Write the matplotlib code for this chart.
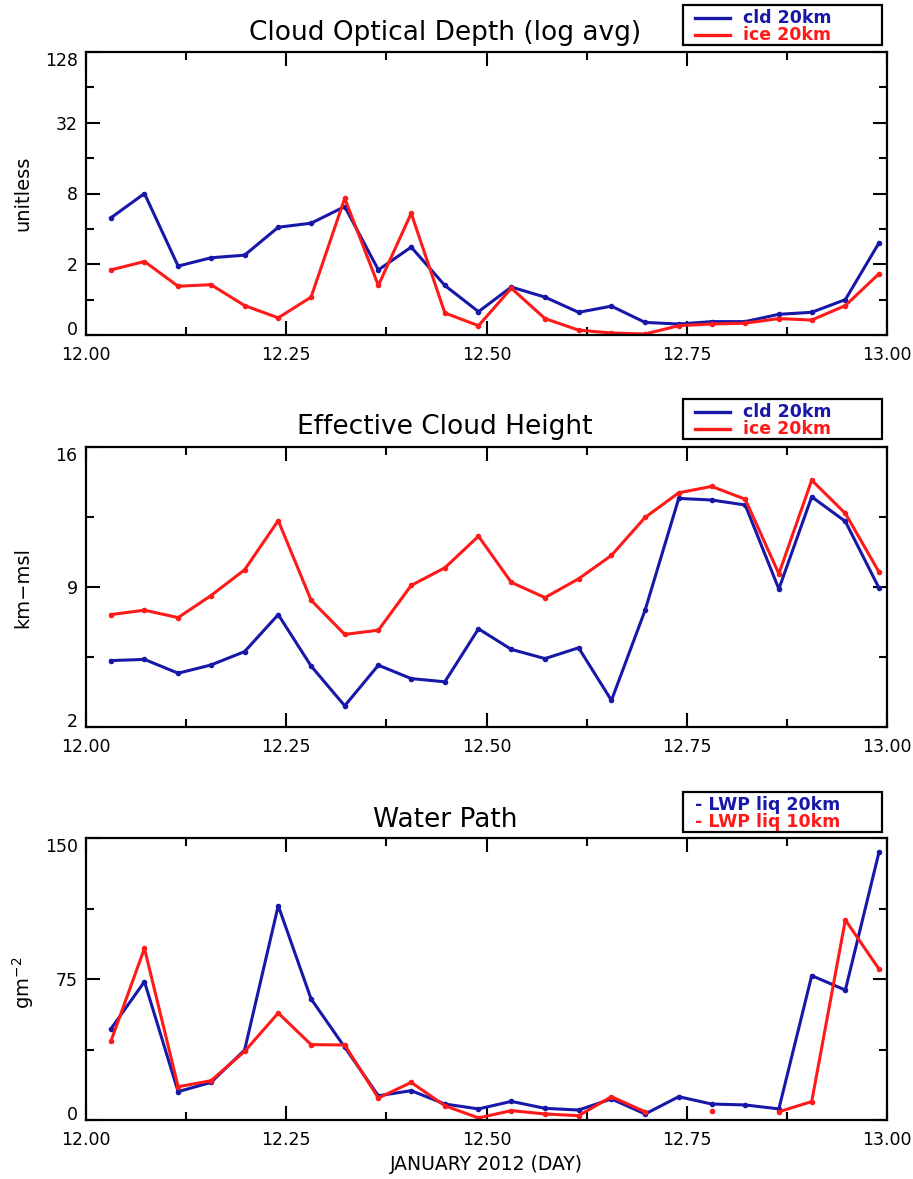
import numpy as np
import matplotlib
matplotlib.use('Agg')
import matplotlib.pyplot as plt
from matplotlib.patches import Rectangle
from matplotlib.lines import Line2D

# hourly samples, January 2012 (day)
day = [12.031, 12.073, 12.115, 12.156, 12.198, 12.240, 12.281, 12.323,
       12.365, 12.406, 12.448, 12.490, 12.531, 12.573, 12.615, 12.656,
       12.698, 12.740, 12.781, 12.823, 12.865, 12.906, 12.948, 12.990]

# cloud optical depth (log avg)
cod_cld = [4.96, 8.0, 1.93, 2.27, 2.39, 4.13, 4.47, 6.19, 1.79, 2.80, 1.32, 0.79,
           1.28, 1.05, 0.78, 0.88, 0.64, 0.62, 0.65, 0.65, 0.75, 0.78, 1.0, 3.04]
cod_ice = [1.79, 2.11, 1.30, 1.34, 0.89, 0.70, 1.05, 7.28, 1.32, 5.43, 0.77, 0.60,
           1.25, 0.69, 0.55, 0.52, 0.51, 0.60, 0.62, 0.63, 0.69, 0.67, 0.89, 1.66]

# effective cloud height (km-msl)
hgt_cld = [5.32, 5.38, 4.69, 5.10, 5.77, 7.62, 5.05, 3.06, 5.09, 4.42, 4.26, 6.91,
           5.88, 5.42, 5.96, 3.33, 7.84, 13.43, 13.35, 13.10, 8.90, 13.51, 12.28, 8.95]
hgt_ice = [7.62, 7.84, 7.47, 8.57, 9.86, 12.32, 8.34, 6.63, 6.84, 9.08, 9.96, 11.54,
           9.23, 8.47, 9.41, 10.58, 12.48, 13.71, 14.03, 13.39, 9.66, 14.34, 12.68, 9.75]

# water path (g m-2)
lwp_20 = [48.4, 73.6, 15.1, 20.0, 37.2, 114.0, 64.4, 38.7, 12.9, 15.6, 8.5, 5.9,
          9.9, 6.2, 5.3, 11.2, 3.2, 12.4, 8.5, 8.0, 5.9, 76.8, 69.1, 142.4]
lwp_10 = [41.8, 91.3, 17.7, 20.9, 36.5, 56.9, 40.1, 39.9, 11.7, 20.0, 7.6, 1.1,
          5.0, 3.2, 2.3, 12.4, 4.4, np.nan, 5.0, np.nan, 4.4, 9.8, 106.4, 80.3]

xticks = [12.0, 12.25, 12.5, 12.75, 13.0]
xminor = [12.125, 12.375, 12.625, 12.875]

BLUE = '#1818a8'
RED = '#ff1a1a'

W, H = 913, 1179
fig = plt.figure(figsize=(W / 100, H / 100), dpi=100)


def fx(px):
    return px / W


def fy(py):
    return 1 - py / H


def make_axes(top, bottom):
    ax = fig.add_axes([fx(86), fy(bottom), fx(887) - fx(86), fy(top) - fy(bottom)])
    ax.set_xlim(12.0, 13.0)
    ax.set_xticks(xticks)
    ax.set_xticklabels(['%.2f' % t for t in xticks])
    ax.set_xticks(xminor, minor=True)
    ax.tick_params(which='both', direction='in', top=True, right=True,
                   width=1.5, labelsize=12.5)
    ax.tick_params(which='major', length=10)
    ax.tick_params(which='minor', length=6)
    ax.tick_params(axis='x', pad=8)
    ax.tick_params(axis='y', pad=6)
    for s in ax.spines.values():
        s.set_linewidth(1.6)
    return ax


def fix_end_labels(ax):
    # IDL keeps the end labels inside the axis range
    labs = ax.get_yticklabels()
    labs[0].set_verticalalignment('baseline')
    labs[-1].set_verticalalignment('top')


def legend_box(top, rows):
    fig.add_artist(Rectangle((fx(683), fy(top + 40)), fx(882) - fx(683), fy(top) - fy(top + 40),
                             transform=fig.transFigure, fill=False, edgecolor='black', lw=1.6))
    for i, (txt, col, line) in enumerate(rows):
        yy = fy(top + 13 + 17 * i)
        if line:
            fig.add_artist(Line2D([fx(695), fx(730)], [yy, yy], transform=fig.transFigure,
                                  color=col, lw=2.4))
            fig.text(fx(743), yy, txt, color=col, fontsize=12.5, fontweight='bold',
                     va='center', ha='left')
        else:
            fig.text(fx(695), yy, txt, color=col, fontsize=12.5, fontweight='bold',
                     va='center', ha='left')


# Panel 1: cloud optical depth
ax1 = make_axes(52, 335)
ax1.plot(day, cod_cld, color=BLUE, lw=2.2, marker='o', ms=3)
ax1.plot(day, cod_ice, color=RED, lw=2.2, marker='o', ms=3)
ax1.set_yscale('log', base=4)
ax1.set_ylim(0.5, 128)
ax1.set_yticks([0.5, 2, 8, 32, 128])
ax1.set_yticklabels(['0', '2', '8', '32', '128'])
ax1.set_yticks([1, 4, 16, 64], minor=True)
ax1.set_yticklabels([], minor=True)
fix_end_labels(ax1)
fig.text(fx(445), fy(33), 'Cloud Optical Depth (log avg)', fontsize=19, ha='center', va='center')
fig.text(fx(23), fy(193), 'unitless', fontsize=14, rotation=90, ha='center', va='center')
legend_box(5, [('cld 20km', BLUE, True), ('ice 20km', RED, True)])

# Panel 2: effective cloud height
ax2 = make_axes(447, 727)
ax2.plot(day, hgt_cld, color=BLUE, lw=2.2, marker='o', ms=3)
ax2.plot(day, hgt_ice, color=RED, lw=2.2, marker='o', ms=3)
ax2.set_ylim(2, 16)
ax2.set_yticks([2, 9, 16])
ax2.set_yticks([5.5, 12.5], minor=True)
fix_end_labels(ax2)
fig.text(fx(445), fy(427), 'Effective Cloud Height', fontsize=19, ha='center', va='center')
fig.text(fx(23), fy(587), 'km\u2212msl', fontsize=14, rotation=90, ha='center', va='center')
legend_box(399, [('cld 20km', BLUE, True), ('ice 20km', RED, True)])

# Panel 3: water path
ax3 = make_axes(838, 1120)
ax3.plot(day, lwp_20, color=BLUE, lw=2.2, marker='o', ms=3)
ax3.plot(day, lwp_10, color=RED, lw=2.2, marker='o', ms=3)
ax3.set_ylim(0, 150)
ax3.set_yticks([0, 75, 150])
ax3.set_yticks([37.5, 112.5], minor=True)
fix_end_labels(ax3)
fig.text(fx(445), fy(820), 'Water Path', fontsize=19, ha='center', va='center')
fig.text(fx(23), fy(983), 'gm$^{-2}$', fontsize=14, rotation=90, ha='center', va='center')
fig.text(fx(486), fy(1164), 'JANUARY 2012 (DAY)', fontsize=13.5, ha='center', va='center')
legend_box(792, [('- LWP liq 20km', BLUE, False), ('- LWP liq 10km', RED, False)])

fig.savefig('out.png', dpi=100)
